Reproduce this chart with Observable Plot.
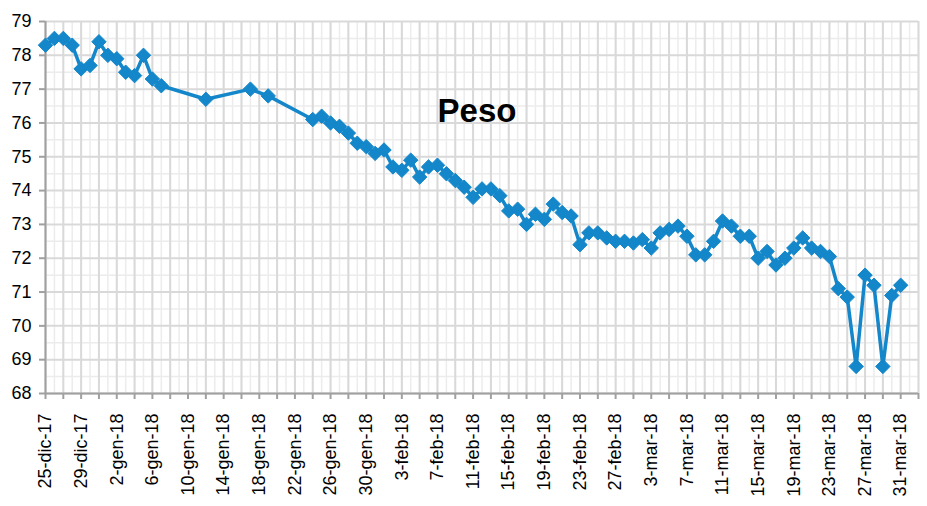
<!DOCTYPE html>
<html><head><meta charset="utf-8">
<script src="https://cdn.jsdelivr.net/npm/d3@7"></script>
<script src="https://cdn.jsdelivr.net/npm/@observablehq/plot@0.6"></script>
<style>
body{margin:0;background:#fff;}
#chart svg{display:block;}
</style></head><body><div id="chart"></div>
<script>
const title = "Peso";
const monthNames = ["gen","feb","mar","apr","mag","giu","lug","ago","set","ott","nov","dic"];
const dates = [
"2017-12-25","2017-12-26","2017-12-27","2017-12-28","2017-12-29","2017-12-30","2017-12-31",
"2018-01-01","2018-01-02","2018-01-03","2018-01-04","2018-01-05","2018-01-06","2018-01-07",
"2018-01-12","2018-01-17","2018-01-19",
"2018-01-24","2018-01-25","2018-01-26","2018-01-27","2018-01-28","2018-01-29","2018-01-30","2018-01-31",
"2018-02-01","2018-02-02","2018-02-03","2018-02-04","2018-02-05","2018-02-06","2018-02-07","2018-02-08","2018-02-09","2018-02-10",
"2018-02-11","2018-02-12","2018-02-13","2018-02-14","2018-02-15","2018-02-16","2018-02-17","2018-02-18","2018-02-19","2018-02-20",
"2018-02-21","2018-02-22","2018-02-23","2018-02-24","2018-02-25","2018-02-26","2018-02-27","2018-02-28",
"2018-03-01","2018-03-02","2018-03-03","2018-03-04","2018-03-05","2018-03-06","2018-03-07","2018-03-08","2018-03-09","2018-03-10",
"2018-03-11","2018-03-12","2018-03-13","2018-03-14","2018-03-15","2018-03-16","2018-03-17","2018-03-18","2018-03-19","2018-03-20",
"2018-03-21","2018-03-22","2018-03-23","2018-03-24","2018-03-25","2018-03-26","2018-03-27","2018-03-28","2018-03-29","2018-03-30","2018-03-31"
];
const values = [
78.3,78.5,78.5,78.3,77.6,77.7,78.4,
78.0,77.9,77.5,77.4,78.0,77.3,77.1,
76.7,77.0,76.8,
76.1,76.2,76.0,75.9,75.7,75.4,75.3,75.1,
75.2,74.7,74.6,74.9,74.4,74.7,74.75,74.5,74.3,74.1,
73.8,74.05,74.05,73.85,73.4,73.45,73.0,73.3,73.15,73.6,
73.35,73.25,72.4,72.75,72.75,72.6,72.5,72.5,
72.45,72.55,72.3,72.75,72.85,72.95,72.65,72.1,72.1,72.5,
73.1,72.95,72.65,72.65,72.0,72.2,71.8,72.0,72.3,72.6,
72.3,72.2,72.05,71.1,70.85,68.8,71.5,71.2,68.8,70.9,71.2
];
const yTicks = [68,69,70,71,72,73,74,75,76,77,78,79];
const xStart = "2017-12-25";
const xEnd = "2018-04-02";

const data = dates.map((d, i) => ({date: new Date(d + "T00:00:00Z"), value: values[i]}));
const start = new Date(xStart + "T00:00:00Z");
const end = new Date(xEnd + "T00:00:00Z");
const dayTicks = d3.utcDay.range(start, d3.utcDay.offset(end, 1));
const tickDates = dayTicks.filter((d, i) => i % 2 === 0);
const fmt = d => `${d.getUTCDate()}-${monthNames[d.getUTCMonth()]}-${String(d.getUTCFullYear()).slice(2)}`;
const isLabel = d => Math.round((d - start) / 864e5) % 4 === 0 && d < end;
const halfTicks = d3.range(yTicks[0] + 0.5, yTicks[yTicks.length - 1], 1);
const blue = "#1387c9";

const chart = Plot.plot({
  width: 927,
  height: 506,
  marginLeft: 45,
  marginRight: 9,
  marginTop: 21,
  marginBottom: 113,
  style: {fontFamily: "Liberation Sans, Arial, Helvetica, sans-serif", background: "#fff"},
  x: {type: "utc", domain: [start, end]},
  y: {domain: [yTicks[0], yTicks[yTicks.length - 1]]},
  marks: [
    Plot.gridX({ticks: dayTicks, stroke: "#ececec", strokeOpacity: 1, strokeWidth: 1.5}),
    Plot.gridY({ticks: halfTicks, stroke: "#ececec", strokeOpacity: 1, strokeWidth: 1.5}),
    Plot.gridX({ticks: tickDates, stroke: "#d9d9d9", strokeOpacity: 1, strokeWidth: 2}),
    Plot.gridY({ticks: yTicks, stroke: "#d9d9d9", strokeOpacity: 1, strokeWidth: 2}),
    Plot.ruleX([start], {stroke: "#a0a0a0", strokeWidth: 2}),
    Plot.ruleY([yTicks[0]], {stroke: "#a0a0a0", strokeWidth: 2}),
    Plot.axisY({ticks: yTicks, tickSize: 6, tickPadding: 8, stroke: "#a0a0a0", fill: "#000", strokeWidth: 2, fontSize: 18, label: null}),
    Plot.axisX({ticks: tickDates, tickSize: 6, tickPadding: 14, tickRotate: -90, tickFormat: d => isLabel(d) ? fmt(d) : "", stroke: "#a0a0a0", fill: "#000", strokeWidth: 2, fontSize: 18, label: null}),
    Plot.line(data, {x: "date", y: "value", stroke: blue, strokeWidth: 3.5}),
    Plot.dot(data, {x: "date", y: "value", symbol: "diamond2", r: 6.5, fill: blue, stroke: blue, strokeWidth: 1}),
    Plot.text([title], {frameAnchor: "top", dx: -5, dy: 100, lineAnchor: "bottom", fontSize: 33, fontWeight: "bold", fill: "#000"})
  ]
});
document.getElementById("chart").appendChild(chart);
</script>
</body></html>
